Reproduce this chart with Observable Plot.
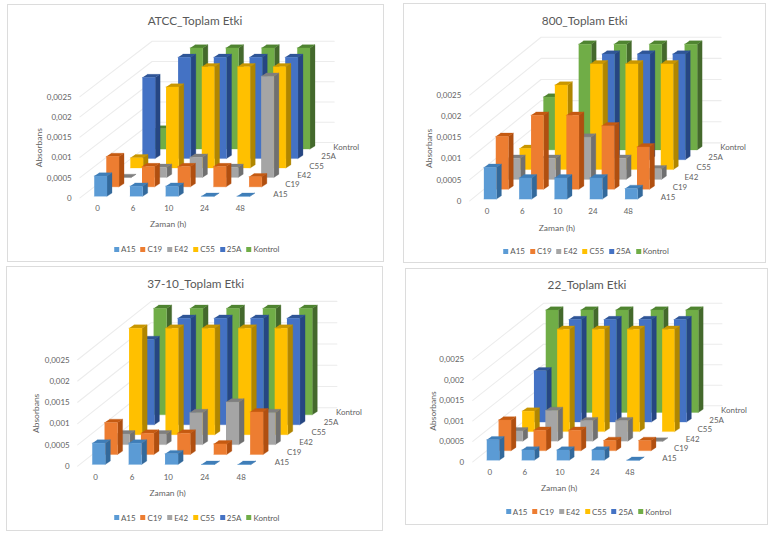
<!DOCTYPE html>
<html>
<head>
<meta charset="utf-8">
<script src="https://cdn.jsdelivr.net/npm/d3@7"></script>
<script src="https://cdn.jsdelivr.net/npm/@observablehq/plot@0.6"></script>
<style>
html,body{margin:0;padding:0;background:#fff;}
body{width:776px;height:534px;position:relative;overflow:hidden;font-family:Lato,"Open Sans",sans-serif;color:#595959;}
.panel{position:absolute;background:#fff;border:1px solid #dcdcdc;box-sizing:border-box;}
.panel svg{position:absolute;left:0;top:0;}
.title{position:absolute;transform:translate(-50%,-50%);white-space:nowrap;font-size:11.8px;color:#595959;}
.legend{position:absolute;transform:translate(-50%,-50%);display:flex;gap:5px;white-space:nowrap;font-size:8px;color:#595959;align-items:center;}
.legend span.item{display:flex;align-items:center;gap:2px;}
.legend i{display:block;width:5px;height:5px;}
</style>
</head>
<body>
<script>
// ---- data (absorbance; bars at the axis ceiling are clipped at 0,0025) ----
const times = ["0", "6", "10", "24", "48"];
const seriesNames = ["A15", "C19", "E42", "C55", "25A", "Kontrol"];
const axisTicks = [0, 0.0005, 0.001, 0.0015, 0.002, 0.0025];

const atccA15 = [0.0005, 0.00025, 0.00025, 0, 0];
const atccC19 = [0.00075, 0.0005, 0.0005, 0.0005, 0.00025];
const atccE42 = [0, 0.00025, 0.0005, 0.00025, 0.0025];
const atccC55 = [0.00025, 0.002, 0.0025, 0.0025, 0.0025];
const atcc25A = [0.002, 0.0025, 0.0025, 0.0025, 0.0025];
const atccKon = [0.0005, 0.0025, 0.0025, 0.0025, 0.0025];

const s800A15 = [0.00075, 0.0005, 0.0005, 0.0005, 0.00025];
const s800C19 = [0.00125, 0.00175, 0.00175, 0.0015, 0.001];
const s800E42 = [0.0005, 0.0005, 0.001, 0.0005, 0.00025];
const s800C55 = [0.0005, 0.002, 0.0025, 0.0025, 0.0025];
const s80025A = [0, 0, 0.0025, 0.0025, 0.0025];
const s800Kon = [0.00125, 0.0025, 0.0025, 0.0025, 0.0025];

const s3710A15 = [0.0005, 0.0005, 0.00025, 0, 0];
const s3710C19 = [0.00075, 0.0005, 0.0005, 0.00025, 0.001];
const s3710E42 = [0.00025, 0.00025, 0.00075, 0.001, 0.00075];
const s3710C55 = [0.0025, 0.0025, 0.0025, 0.0025, 0.0025];
const s371025A = [0.002, 0.0025, 0.0025, 0.0025, 0.0025];
const s3710Kon = [0.0025, 0.0025, 0.0025, 0.0025, 0.0025];

const s22A15 = [0.0005, 0.00025, 0.00025, 0.00025, 0];
const s22C19 = [0.00075, 0.0005, 0.0005, 0.00025, 0.00025];
const s22E42 = [0.00025, 0.00075, 0.0005, 0.0005, 0];
const s22C55 = [0.0005, 0.0025, 0.0025, 0.0025, 0.0025];
const s2225A = [0.00125, 0.0025, 0.0025, 0.0025, 0.0025];
const s22Kon = [0.0025, 0.0025, 0.0025, 0.0025, 0.0025];

// ---- styling ----
const frontColors = ["#5b9bd5", "#ed7d31", "#a5a5a5", "#ffc000", "#4472c4", "#70ad47"];
const topColors   = ["#3f7eb8", "#c55a11", "#7f7f7f", "#c99700", "#2f5597", "#4f8431"];
const sideColors  = ["#33699b", "#b04f10", "#707070", "#b08600", "#264682", "#44692c"];

const panels = [
  {title:"ATCC_Toplam Etki", rows:[atccA15,atccC19,atccE42,atccC55,atcc25A,atccKon],
   box:[6.5,3.5,384,262], px0:92.7, py0:195.3, cat:35.9, val:40.7, tx:194, ty:19, lx:195.7, ly:248},
  {title:"800_Toplam Etki", rows:[s800A15,s800C19,s800E42,s800C55,s80025A,s800Kon],
   box:[402.5,3,766,263], px0:482.3, py0:198.7, cat:35.5, val:42.5, tx:583.7, ty:18.5, lx:585, ly:250},
  {title:"37-10_Toplam Etki", rows:[s3710A15,s3710C19,s3710E42,s3710C55,s371025A,s3710Kon],
   box:[5.5,266,383,530.5], px0:90.7, py0:464, cat:36.6, val:42.8, tx:194.7, ty:282, lx:195.7, ly:516.7},
  {title:"22_Toplam Etki", rows:[s22A15,s22C19,s22E42,s22C55,s2225A,s22Kon],
   box:[405,267.5,768,524.5], px0:485.7, py0:459.3, cat:35.2, val:41.2, tx:586, ty:282.7, lx:587.5, ly:510.7}
];

// oblique projection constants, in scale units (u = category steps, v = absorbance)
const stepU = 0.337, stepV = 0.000233, barU = 0.357, depthU = 0.14, depthV = 0.00008;
const wallU = -0.4, wallV = -0.00004, wallDU = 2.02, wallDV = 0.00137, wallW = 5.1;

function facesFor(rows) {
  const out = [];
  for (let s = rows.length - 1; s >= 0; s--) {
    rows[s].forEach((v, c) => {
      const u0 = c + s * stepU, u1 = u0 + barU, b = s * stepV, t = b + v;
      const poly = (name, color, pts) => pts.forEach(([u, w]) => out.push({id:`${s}-${c}-${name}`, u, w, color}));
      poly("side", sideColors[s], [[u1,b],[u1+depthU,b+depthV],[u1+depthU,t+depthV],[u1,t]]);
      poly("top", topColors[s], [[u0,t],[u1,t],[u1+depthU,t+depthV],[u0+depthU,t+depthV]]);
      poly("front", frontColors[s], [[u0,b],[u1,b],[u1,t],[u0,t]]);
    });
  }
  return out;
}

function wallsFor() {
  const out = [];
  axisTicks.forEach(v => {
    const w = v + wallV;
    out.push({id:v, u:wallU, w});
    out.push({id:v, u:wallU + wallDU, w:w + wallDV});
    out.push({id:v, u:wallU + wallDU + wallW, w:w + wallDV});
  });
  return out;
}

const font = "Lato, 'Open Sans', sans-serif";
const grey = "#636363";

panels.forEach(p => {
  const [x0, y0, x1, y1] = p.box;
  const w = x1 - x0, h = y1 - y0;
  const panel = document.createElement("div");
  panel.className = "panel";
  Object.assign(panel.style, {left:x0+"px", top:y0+"px", width:w+"px", height:h+"px"});
  document.body.appendChild(panel);

  const left = p.px0 - x0, base = p.py0 - y0;
  const seriesTable = seriesNames.map((name, s) => ({name, u:5.01 + s*stepU, w:s*stepV + 0.00005}));
  const timeTable = times.map((t, c) => ({t, u:c + 0.09, w:-0.0003}));

  const chart = Plot.plot({
    width:w, height:h,
    marginLeft:left - 22.7, marginRight:0, marginTop:0, marginBottom:0,
    style:{background:"transparent", fontFamily:font, fontSize:"8px", color:grey, overflow:"visible"},
    x:{domain:[0,1], range:[left, left + p.cat], axis:null},
    y:{domain:[0,0.001], range:[base, base - p.val], axis:null},
    color:{type:"identity"},
    marks:[
      Plot.line(wallsFor(), {x:"u", y:"w", z:"id", stroke:"#ececec", strokeWidth:1.1}),
      Plot.line(facesFor(p.rows), {x:"u", y:"w", z:"id", fill:"color", stroke:"color", strokeWidth:0.3}),
      Plot.axisY(axisTicks, {anchor:"left", tickSize:0, tickPadding:0, label:null, dy:2, fill:grey,
        tickFormat:d => String(d).replace(".", ",")}),
      Plot.text(timeTable, {x:"u", y:"w", text:"t", fill:grey}),
      Plot.text(seriesTable, {x:"u", y:"w", text:"name", textAnchor:"start", fill:grey}),
      Plot.text(["Zaman (h)"], {x:[2.07], y:[-0.00068], text:d => d, fill:grey, fontSize:8.5}),
      Plot.text(["Absorbans"], {x:[-1.54], y:[0.0012], text:d => d, rotate:-90, fill:grey, fontSize:8.5})
    ]
  });
  panel.appendChild(chart);

  const title = document.createElement("div");
  title.className = "title";
  title.textContent = p.title;
  Object.assign(title.style, {left:(p.tx-x0)+"px", top:(p.ty-y0)+"px"});
  panel.appendChild(title);

  const legend = document.createElement("div");
  legend.className = "legend";
  Object.assign(legend.style, {left:(p.lx-x0)+"px", top:(p.ly-y0)+"px"});
  seriesNames.forEach((n, s) => {
    const item = document.createElement("span");
    item.className = "item";
    const sw = document.createElement("i");
    sw.style.background = frontColors[s];
    item.appendChild(sw);
    item.appendChild(document.createTextNode(n));
    legend.appendChild(item);
  });
  panel.appendChild(legend);
});
</script>
</body>
</html>
